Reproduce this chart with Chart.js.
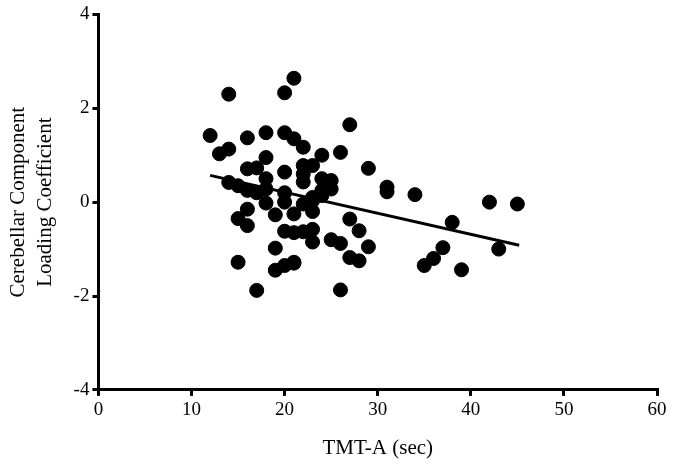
<!DOCTYPE html>
<html>
<head>
<meta charset="utf-8">
<script src="https://cdn.jsdelivr.net/npm/chart.js@4/dist/chart.umd.min.js"></script>
<style>
  html, body { margin: 0; padding: 0; background: #fff; }
  #wrap { width: 675px; height: 465px; }
</style>
</head>
<body>
<div id="wrap"><canvas id="chart"></canvas></div>
<script>
// TMT-A (sec) vs cerebellar loading coefficient
const tmtA = [
  12, 13, 14, 14, 16, 18, 20, 21, 20, 21, 22, 24, 26, 27, 29, 31, 31,
  18, 16, 17, 20, 14, 15, 16, 17, 18, 18, 20, 18, 16, 15, 16, 19, 20,
  20, 19, 15, 19, 20, 21, 17, 21, 21, 22, 23, 22, 22, 24, 25, 25, 24,
  24, 22, 23, 23, 23, 22, 23, 23, 25, 26, 27, 28, 29, 27, 28, 26, 21,
  34, 42, 45, 38, 37, 36, 35, 39, 43
];
const loading = [
  1.42, 1.03, 1.13, 2.30, 1.37, 1.48, 2.33, 2.64, 1.48, 1.35, 1.17, 1.00, 1.06, 1.65, 0.72, 0.32, 0.22,
  0.95, 0.71, 0.73, 0.64, 0.42, 0.35, 0.25, 0.20, 0.50, 0.28, 0.20, -0.02, -0.15, -0.35, -0.50, -0.27, 0.00,
  -0.62, -0.98, -1.28, -1.45, -1.35, -1.30, -1.88, -0.65, -0.25, 0.78, 0.78, 0.60, 0.43, 0.50, 0.46, 0.28, 0.25,
  0.14, -0.04, 0.03, 0.10, -0.20, -0.63, -0.58, -0.85, -0.80, -0.88, -0.36, -0.61, -0.95, -1.18, -1.25, -1.87, -1.28,
  0.16, 0.00, -0.04, -0.43, -0.97, -1.20, -1.35, -1.44, -1.00
];
// regression line end points
const fitX = [12, 45.2];
const fitY = [0.57, -0.92];

const xTicks = [0, 10, 20, 30, 40, 50, 60];
const yTicks = [-4, -2, 0, 2, 4];

const tickFont = { family: 'Liberation Serif', size: 19 };
const titleFont = { family: 'Liberation Serif', size: 21, lineHeight: 1.3 };

const axis = (min, max, step, title) => ({
  min, max,
  border: { display: true, color: '#000', width: 3 },
  grid: { display: true, drawOnChartArea: false, drawTicks: true, tickLength: 6, lineWidth: 3, color: '#000' },
  ticks: { stepSize: step, color: '#000', font: tickFont, padding: 3 },
  title: { display: true, text: title, color: '#000', font: titleFont },
});

const xAxis = axis(xTicks[0], xTicks[xTicks.length - 1], 10, 'TMT-A (sec)');
xAxis.title.padding = { top: 10, bottom: 0 };
const yAxis = axis(yTicks[0], yTicks[yTicks.length - 1], 2, ['Cerebellar Component', 'Loading Coefficient']);
yAxis.title.padding = { top: 0, bottom: 11 };

new Chart(document.getElementById('chart'), {
  type: 'scatter',
  data: {
    datasets: [
      {
        label: 'subjects',
        data: tmtA.map((x, i) => ({ x, y: loading[i] })),
        backgroundColor: '#000',
        borderColor: '#000',
        pointRadius: 7,
        pointHoverRadius: 7,
      },
      {
        type: 'line',
        label: 'fit',
        data: fitX.map((x, i) => ({ x, y: fitY[i] })),
        borderColor: '#000',
        borderWidth: 3,
        pointRadius: 0,
        fill: false,
      },
    ],
  },
  options: {
    responsive: true,
    maintainAspectRatio: false,
    animation: false,
    layout: { padding: { top: 4, right: 18, left: 5, bottom: 3 } },
    scales: { x: xAxis, y: yAxis },
    plugins: { legend: { display: false }, tooltip: { enabled: false } },
  },
});
</script>
</body>
</html>
